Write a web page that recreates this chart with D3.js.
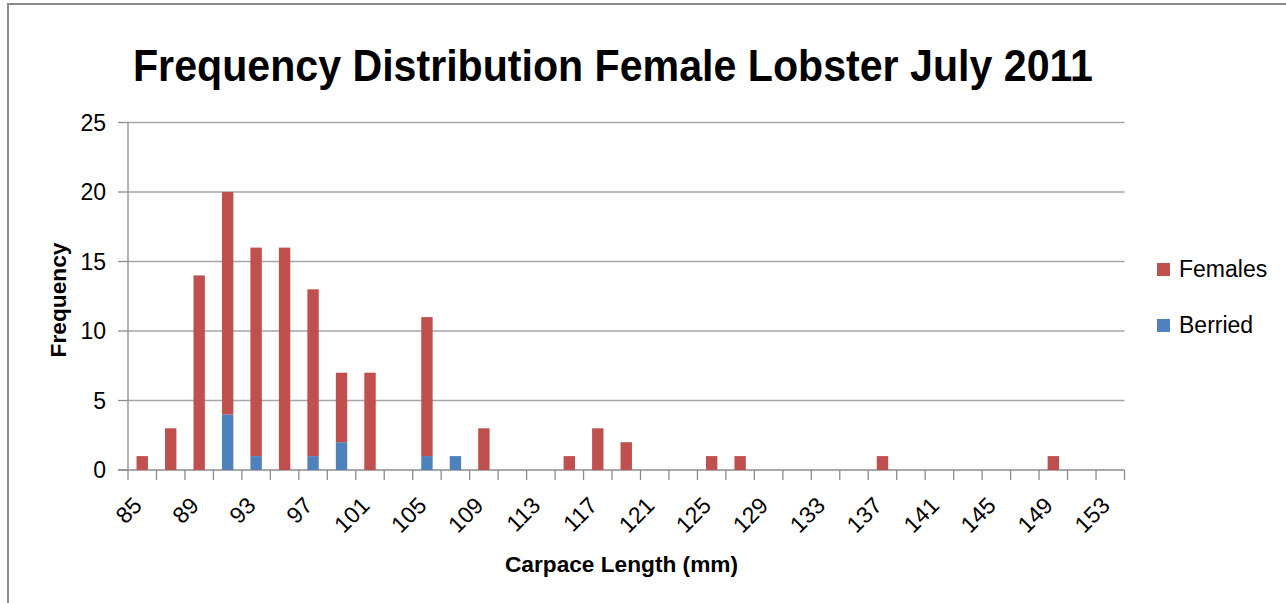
<!DOCTYPE html>
<html>
<head>
<meta charset="utf-8">
<script src="https://cdn.jsdelivr.net/npm/d3@7"></script>
<style>
  html, body { margin: 0; padding: 0; background: #fff; overflow: hidden; }
  svg { display: block; }
  svg text { font-family: "Liberation Sans", Arial, sans-serif; fill: #000; }
</style>
</head>
<body>
<svg id="frame"></svg>
<script>
// carapace length classes (mm)
const lengths = ["85","87","89","91","93","95","97","99","101","103",
  "105","107","109","111","113","115","117","119","121","123",
  "125","127","129","131","133","135","137","139","141","143",
  "145","147","149","151","153"];
// non-berried females per class
const females = [1,3,14,16,15,16,12,5,7,0,
  10,0,3,0,0,1,3,2,0,0,
  1,1,0,0,0,0,1,0,0,0,
  0,0,1,0,0];
// berried females per class
const berried = [0,0,0,4,1,0,1,2,0,0,
  1,1,0,0,0,0,0,0,0,0,
  0,0,0,0,0,0,0,0,0,0,
  0,0,0,0,0];
const xTickLabels = ["85","89","93","97","101","105","109","113","117","121",
  "125","129","133","137","141","145","149","153"];
const yTicks = [0, 5, 10, 15, 20, 25];
const seriesNames = ["Berried", "Females"];
const colors = {Berried: "#4F81BD", Females: "#C0504D"};

const width = 1286;
const height = 603;
const margin = {left: 128, right: 161.5, top: 122.5, bottom: 133};
const innerWidth = width - margin.left - margin.right;
const innerHeight = height - margin.top - margin.bottom;

const svg = d3.select('#frame')
  .attr('width', width)
  .attr('height', height)
  .attr('viewBox', `0 0 ${width} ${height}`);

// chart border (only top and left visible in the crop)
svg.append('path')
  .attr('d', `M8,${height} V4 H${width}`)
  .attr('fill', 'none')
  .attr('stroke', '#8c8c8c')
  .attr('stroke-width', 2);

const rows = lengths.map((l, i) => ({len: l, Berried: berried[i], Females: females[i]}));
const stacked = d3.stack().keys(seriesNames)(rows);

const xScale = d3.scaleBand()
  .domain(lengths)
  .range([0, innerWidth])
  .paddingInner(0.6)
  .paddingOuter(0.3);

const yScale = d3.scaleLinear()
  .domain([0, 25])
  .range([innerHeight, 0]);

const g = svg.append('g').attr('transform', `translate(${margin.left},${margin.top})`);

// gridlines
g.append('g')
  .selectAll('line')
  .data(yTicks.filter(d => d > 0))
  .enter().append('line')
  .attr('x1', 0).attr('x2', innerWidth)
  .attr('y1', d => yScale(d)).attr('y2', d => yScale(d))
  .attr('stroke', '#a6a6a6')
  .attr('stroke-width', 1.3);

// y axis
const yg = g.append('g');
yg.append('line')
  .attr('x1', 0).attr('x2', 0)
  .attr('y1', 0).attr('y2', innerHeight)
  .attr('stroke', '#8c8c8c').attr('stroke-width', 1.3);
yg.selectAll('.ytick')
  .data(yTicks)
  .enter().append('line')
  .attr('class', 'ytick')
  .attr('x1', -10).attr('x2', 0)
  .attr('y1', d => yScale(d)).attr('y2', d => yScale(d))
  .attr('stroke', '#8c8c8c').attr('stroke-width', 1.3);
yg.selectAll('.ylab')
  .data(yTicks)
  .enter().append('text')
  .attr('class', 'ylab')
  .attr('x', -22)
  .attr('y', d => yScale(d) + 8)
  .attr('text-anchor', 'end')
  .attr('font-size', 23)
  .text(d => d);

// x axis: ticks on category boundaries, labels on every other category
const step = xScale.step();
const xg = g.append('g').attr('transform', `translate(0,${innerHeight})`);
xg.append('line')
  .attr('x1', -10).attr('x2', innerWidth)
  .attr('stroke', '#8c8c8c').attr('stroke-width', 1.3);
xg.selectAll('.bound')
  .data(d3.range(lengths.length + 1))
  .enter().append('line')
  .attr('class', 'bound')
  .attr('x1', i => i * step).attr('x2', i => i * step)
  .attr('y1', 0).attr('y2', 10)
  .attr('stroke', '#8c8c8c').attr('stroke-width', 1.3);

xg.selectAll('.xlab')
  .data(xTickLabels)
  .enter().append('text')
  .attr('class', 'xlab')
  .attr('text-anchor', 'end')
  .attr('transform', d => `translate(${xScale(d) + xScale.bandwidth() / 2 + 1},${37}) rotate(-45)`)
  .attr('font-size', 23)
  .text(d => d);

// bars
g.selectAll('.series')
  .data(stacked)
  .enter().append('g')
  .attr('class', 'series')
  .attr('fill', d => colors[d.key])
  .selectAll('rect')
  .data(d => d.filter(p => p[1] - p[0] > 0))
  .enter().append('rect')
  .attr('x', d => xScale(d.data.len))
  .attr('width', xScale.bandwidth())
  .attr('y', d => yScale(d[1]))
  .attr('height', d => yScale(d[0]) - yScale(d[1]));

// titles
svg.append('text')
  .attr('x', 613).attr('y', 81)
  .attr('text-anchor', 'middle')
  .attr('textLength', 960)
  .attr('lengthAdjust', 'spacingAndGlyphs')
  .attr('font-size', 45)
  .attr('font-weight', 'bold')
  .text('Frequency Distribution Female Lobster July 2011');

svg.append('text')
  .attr('x', 621.5).attr('y', 572)
  .attr('text-anchor', 'middle')
  .attr('textLength', 233)
  .attr('lengthAdjust', 'spacingAndGlyphs')
  .attr('font-size', 22)
  .attr('font-weight', 'bold')
  .text('Carpace Length (mm)');

svg.append('text')
  .attr('transform', 'translate(66,300) rotate(-90)')
  .attr('text-anchor', 'middle')
  .attr('textLength', 115)
  .attr('lengthAdjust', 'spacingAndGlyphs')
  .attr('font-size', 22)
  .attr('font-weight', 'bold')
  .text('Frequency');

// legend
const legendItems = ["Females", "Berried"];
const legend = svg.append('g').attr('transform', 'translate(1157,269)');
const li = legend.selectAll('g')
  .data(legendItems)
  .enter().append('g')
  .attr('transform', (d, i) => `translate(0,${i * 56})`);
li.append('rect')
  .attr('x', 0).attr('y', -6)
  .attr('width', 13).attr('height', 13)
  .attr('fill', d => colors[d]);
li.append('text')
  .attr('x', 22).attr('y', 8)
  .attr('font-size', 23)
  .text(d => d);
</script>
</body>
</html>
